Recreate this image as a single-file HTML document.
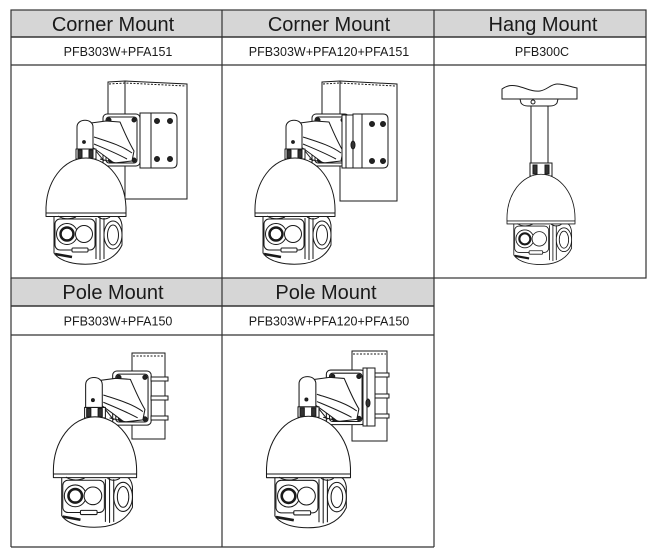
<!DOCTYPE html>
<html><head><meta charset="utf-8"><style>
html,body{margin:0;padding:0;background:#fff;}
svg{display:block;}
text{font-family:"Liberation Sans",Arial,sans-serif;fill:#1a1a1a;}
</style></head><body>
<svg width="656" height="558" viewBox="0 0 656 558" xmlns="http://www.w3.org/2000/svg" xmlns:xlink="http://www.w3.org/1999/xlink">
<defs>
<g id="head" stroke="#1a1a1a" stroke-width="1" fill="#fff" stroke-linejoin="round">
  <path d="M-32,3 L-32,40 C-26,49 -10,52 5,51 C20,50 31,43 36,32 L36,12 C35,6 33,4 31,3 Z"/>
  <path d="M-40,0 C-41,-32 -22,-55 0,-55 C22,-55 41,-32 40,0 Z"/>
  <rect x="-40" y="0" width="80" height="3.5"/>
  <rect x="-31" y="6" width="40" height="31" rx="5"/>
  <circle cx="-19" cy="21" r="10.5"/>
  <circle cx="-19" cy="21" r="6.5" stroke-width="2.5"/>
  <circle cx="-2" cy="21" r="8.5"/>
  <rect x="-14" y="35" width="16" height="4" rx="1"/>
  <path d="M-31,41 L-14,44" stroke-width="2.5" fill="none"/>
  <path d="M10,5 L10,46 M14,4 L14,47 M18,5 L18,46" fill="none"/>
  <ellipse cx="27" cy="22" rx="9" ry="14"/>
  <ellipse cx="27" cy="22" rx="5.5" ry="10"/>
  <path d="M-28,3 Q-20,8 -10,4 M12,4 Q18,8 24,4" fill="none"/>
</g>
<g id="arm" stroke="#1a1a1a" stroke-width="1" fill="#fff" stroke-linejoin="round">
  <rect x="17" y="-99" width="37" height="52" rx="4"/>
  <rect x="20" y="-96" width="31" height="46" rx="3"/>
  <circle cx="23" cy="-93" r="2" fill="#222"/>
  <circle cx="48" cy="-93" r="2" fill="#222"/>
  <circle cx="48" cy="-53" r="2" fill="#222"/>
  <circle cx="25" cy="-53" r="2.5" fill="#222"/>
  <path d="M5,-90 L20,-92 L34,-91 C38,-82 42,-72 48,-62 L46,-52 L28,-50 C20,-56 12,-62 6,-66 Z"/>
  <path d="M8,-76 C20,-72 35,-68 46,-60 M8,-69 C20,-64 30,-60 41,-54" fill="none"/>
  <path d="M-9,-54 L-9,-86 C-9,-95 7,-95 7,-86 L7,-54 Z"/>
  <rect x="-10" y="-64" width="20" height="10"/>
  <circle cx="-2" cy="-71" r="1.4" fill="#222"/>
  <rect x="-8" y="-63" width="4" height="8" fill="#333"/>
  <rect x="3" y="-63" width="4" height="8" fill="#333"/>
  <path d="M10,-62 L18,-52 M14,-54 L30,-50" fill="none"/>
</g>
</defs>

<!-- table backgrounds -->
<rect x="11" y="10" width="635" height="27" fill="#d6d6d6"/>
<rect x="11" y="278" width="423" height="28" fill="#d6d6d6"/>

<!-- table lines -->
<g stroke="#333" stroke-width="1.2" fill="none">
  <rect x="11" y="10" width="635" height="268"/>
  <line x1="222" y1="10" x2="222" y2="547"/>
  <line x1="434" y1="10" x2="434" y2="547"/>
  <line x1="11" y1="37" x2="646" y2="37" stroke-width="1.6"/>
  <line x1="11" y1="65" x2="646" y2="65"/>
  <line x1="11" y1="278" x2="11" y2="547"/>
  <line x1="11" y1="547" x2="434" y2="547"/>
  <line x1="11" y1="306" x2="434" y2="306" stroke-width="1.6"/>
  <line x1="11" y1="335" x2="434" y2="335"/>
</g>

<!-- text -->
<text x="113" y="31" font-size="20" text-anchor="middle">Corner Mount</text>
<text x="329" y="31" font-size="20" text-anchor="middle">Corner Mount</text>
<text x="543" y="31" font-size="20" text-anchor="middle">Hang Mount</text>
<text x="118" y="56" font-size="12.5" text-anchor="middle">PFB303W+PFA151</text>
<text x="329" y="56" font-size="12.5" text-anchor="middle">PFB303W+PFA120+PFA151</text>
<text x="542" y="56" font-size="12.5" text-anchor="middle">PFB300C</text>
<text x="113" y="299" font-size="20" text-anchor="middle">Pole Mount</text>
<text x="326" y="299" font-size="20" text-anchor="middle">Pole Mount</text>
<text x="118" y="325.5" font-size="12.5" text-anchor="middle">PFB303W+PFA150</text>
<text x="329" y="325.5" font-size="12.5" text-anchor="middle">PFB303W+PFA120+PFA150</text>

<!-- Corner mount 1 -->
<g stroke="#1a1a1a" stroke-width="1" fill="#fff">
  <path d="M108,82 L125,81 L187,84 L187,199 L125,199 L125,114 L108,114 Z"/>
  <line x1="125" y1="81" x2="125" y2="199"/>
  <path d="M109,84 L125,83 L186,86" fill="none" stroke-dasharray="2 1.5"/>
  <path d="M140,113 H172 Q177,113 177,118 V163 Q177,168 172,168 H140 Z"/>
  <line x1="151" y1="113" x2="151" y2="168"/>
  <g fill="#222"><circle cx="157" cy="121" r="2.5"/><circle cx="170" cy="121" r="2.5"/><circle cx="157" cy="159" r="2.5"/><circle cx="170" cy="159" r="2.5"/></g>
</g>
<use href="#arm" xlink:href="#arm" transform="translate(86,213)"/>
<use href="#head" xlink:href="#head" transform="translate(86,213)"/>

<!-- Corner mount 2 -->
<g stroke="#1a1a1a" stroke-width="1" fill="#fff">
  <path d="M322,82 L340,81 L397,84 L397,201 L340,201 L340,114 L322,114 Z"/>
  <line x1="340" y1="81" x2="340" y2="201"/>
  <path d="M323,84 L340,83 L396,86" fill="none" stroke-dasharray="2 1.5"/>
  <path d="M353,114 H383 Q388,114 388,119 V163 Q388,168 383,168 H353 Z"/>
  <line x1="362" y1="114" x2="362" y2="168"/>
  <g fill="#222"><circle cx="372" cy="124" r="2.5"/><circle cx="383" cy="124" r="2.5"/><circle cx="372" cy="161" r="2.5"/><circle cx="383" cy="161" r="2.5"/></g>
</g>
<use href="#arm" xlink:href="#arm" transform="translate(295,213)"/>
<use href="#head" xlink:href="#head" transform="translate(295,213)"/>
<g stroke="#1a1a1a" stroke-width="1" fill="#fff">
  <rect x="342" y="115" width="11" height="53"/>
  <line x1="346" y1="115" x2="346" y2="168"/>
  <ellipse cx="353" cy="145" rx="2" ry="4" fill="#333"/>
</g>

<!-- Hang mount -->
<g stroke="#1a1a1a" stroke-width="1" fill="#fff">
  <path d="M502,89 C508,85 512,85 517,86 C526,88 532,92 540,91 C547,90 551,84 557,84 C565,84 571,87 577,88 L577,99 L502,99 Z"/>
  <path d="M520,99 H558 L557,103 Q555,106 550,106 H528 Q523,106 521,103 Z"/>
  <circle cx="533" cy="102" r="2"/>
  <rect x="531" y="106" width="17" height="57"/>
  <rect x="530" y="163" width="22" height="13"/>
  <rect x="533" y="165" width="4" height="9" fill="#333"/>
  <rect x="545" y="165" width="4" height="9" fill="#333"/>
</g>
<use href="#head" xlink:href="#head" transform="translate(541,221) scale(0.85)"/>

<!-- Pole mount 1 -->
<g stroke="#1a1a1a" stroke-width="1" fill="#fff">
  <rect x="132" y="353" width="33" height="86"/>
  <line x1="133" y1="356" x2="164" y2="356" stroke-dasharray="2 1.5"/>
</g>
<use href="#arm" xlink:href="#arm" transform="translate(95,474) scale(1.04)"/>
<use href="#head" xlink:href="#head" transform="translate(95,474) scale(1.04)"/>
<g stroke="#1a1a1a" stroke-width="1" fill="#fff">
  <rect x="151" y="377" width="17" height="4"/>
  <rect x="151" y="396" width="17" height="4"/>
  <rect x="151" y="416" width="17" height="4"/>
</g>

<!-- Pole mount 2 -->
<g stroke="#1a1a1a" stroke-width="1" fill="#fff">
  <rect x="352" y="351" width="35" height="90"/>
  <line x1="353" y1="354" x2="386" y2="354" stroke-dasharray="2 1.5"/>
</g>
<use href="#arm" xlink:href="#arm" transform="translate(308.5,474) scale(1.05)"/>
<use href="#head" xlink:href="#head" transform="translate(308.5,474) scale(1.05)"/>
<g stroke="#1a1a1a" stroke-width="1" fill="#fff">
  <rect x="363" y="368" width="12" height="58"/>
  <line x1="367" y1="368" x2="367" y2="426"/>
  <ellipse cx="368" cy="403" rx="2" ry="4" fill="#333"/>
  <rect x="375" y="373" width="14" height="4"/>
  <rect x="375" y="394" width="14" height="4"/>
  <rect x="375" y="414" width="14" height="4"/>
</g>
</svg>
</body></html>
